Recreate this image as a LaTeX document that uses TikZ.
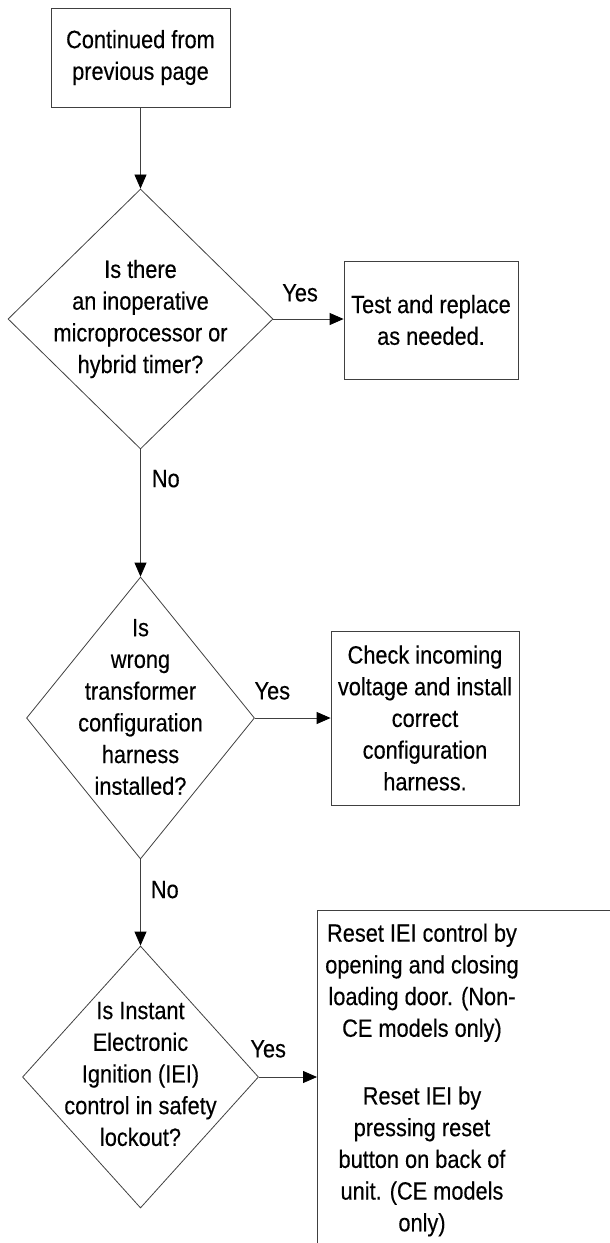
\documentclass[tikz,border=0pt]{standalone}
\usepackage{fontspec}
\setmainfont{Liberation Sans}[FakeStretch=0.87,FakeBold=0.3]
\usetikzlibrary{shapes.geometric,arrows.meta}

\begin{document}
\begin{tikzpicture}[x=1pt,y=-1pt,font=\fontsize{25}{31.7}\selectfont,text=black,
	box/.style={draw=black!75,line width=0.8pt,align=center},
	decision/.style={diamond,draw=black!75,line width=0.8pt,inner sep=0pt},
	txt/.style={align=center,inner sep=0pt},
	answer/.style={inner sep=0pt},
	flow/.style={draw=black!75,line width=0.8pt,-{Triangle[length=14pt,width=12pt,color=black]}}]
		\useasboundingbox (0,0) rectangle (610,1243);
		\clip (0,0) rectangle (610,1243);
		\node [box,minimum width=179pt,minimum height=99pt] (0) at (140.5,57.5) {Continued from\\previous page};
		\node [decision,minimum width=265pt,minimum height=260pt] (1) at (140.5,319) {};
		\node [txt] (1t) at (140.5,319) {Is there\\an inoperative\\microprocessor or\\hybrid timer?};
		\node [box,minimum width=174pt,minimum height=118pt] (2) at (431,320) {Test and replace\\as needed.};
		\node [decision,minimum width=228pt,minimum height=282pt] (3) at (140.5,718) {};
		\node [txt] (3t) at (140.5,707) {Is\\wrong\\transformer\\configuration\\harness\\installed?};
		\node [box,minimum width=188pt,minimum height=174pt] (4) at (425,718) {Check incoming\\voltage and install\\correct\\configuration\\harness.};
		\node [decision,minimum width=236pt,minimum height=262pt] (5) at (140.5,1077) {};
		\node [txt] (5t) at (140.5,1074) {Is Instant\\Electronic\\Ignition (IEI)\\control in safety\\lockout?};
		\node [box,anchor=north west,minimum width=310pt,minimum height=345pt] (6) at (317,910) {};
		\node [txt] (6t) at (422,1080) {Reset IEI control by\\opening and closing\\loading door. (Non-\\CE models only)\\[36pt]Reset IEI by\\pressing reset\\button on back of\\unit. (CE models\\only)};
		\draw [flow] (0) -- (1);
		\draw [flow] (1.east) -- node [answer,pos=0.38,above=17pt] {Yes} (1.east -| 2.west);
		\draw [flow] (1) -- node [answer,pos=0.23,right=11pt] {No} (3);
		\draw [flow] (3.east) -- node [answer,pos=0.23,above=18pt] {Yes} (3.east -| 4.west);
		\draw [flow] (3) -- node [answer,pos=0.35,right=10pt] {No} (5);
		\draw [flow] (5.east) -- node [answer,pos=0.16,above=19pt] {Yes} (5.east -| 6.west);
	\end{tikzpicture}
\end{document}
